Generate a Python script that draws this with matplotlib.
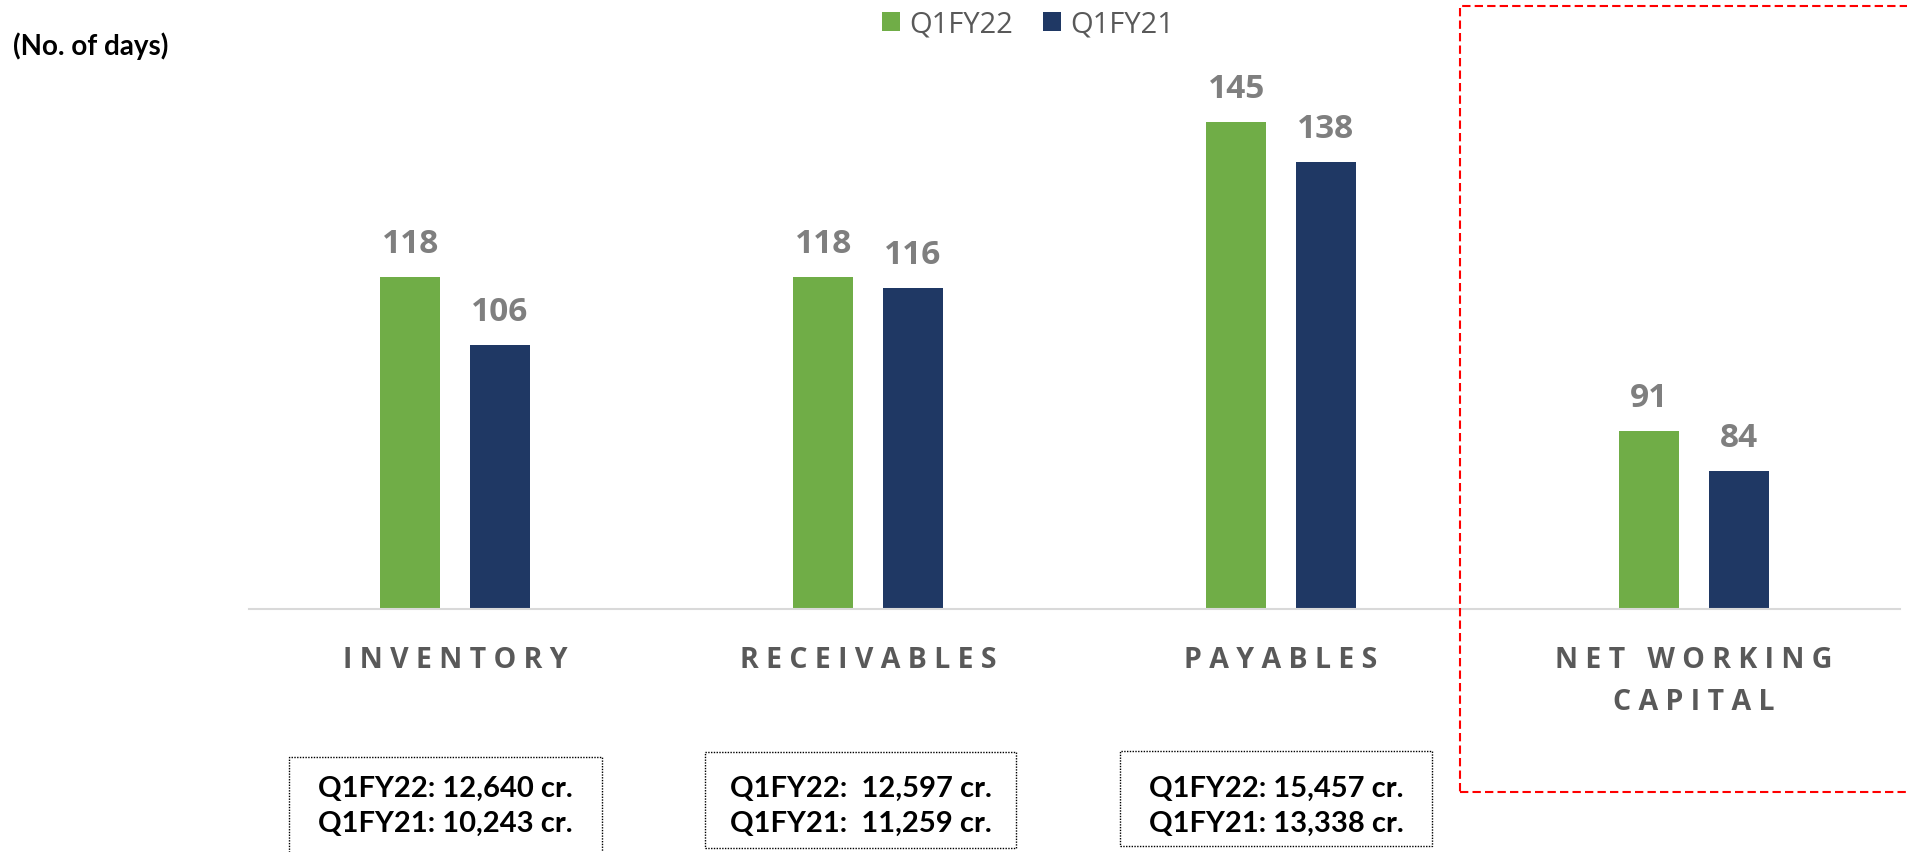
import matplotlib.pyplot as plt
from matplotlib.patches import Rectangle

categories = ["INVENTORY", "RECEIVABLES", "PAYABLES", "NET WORKING\nCAPITAL"]
q1fy22 = [118, 118, 145, 91]
q1fy21 = [106, 116, 138, 84]
series_names = ["Q1FY22", "Q1FY21"]
box_texts = [
    ["Q1FY22: 12,640 cr.", "Q1FY21: 10,243 cr."],
    ["Q1FY22:  12,597 cr.", "Q1FY21:  11,259 cr."],
    ["Q1FY22: 15,457 cr.", "Q1FY21: 13,338 cr."],
]

W, H = 1908, 853
GREEN = '#70AD47'
NAVY = '#1F3864'


def fx(px):
    return px / W


def fy(py):
    # py measured from the top of the image
    return 1 - py / H


def spaced(word):
    return " ".join(word)


fig = plt.figure(figsize=(W / 100, H / 100), dpi=100)
ax = fig.add_axes([fx(248.5), fy(610), fx(1900.5) - fx(248.5), 573 / H])

x = list(range(len(categories)))
bw = 0.145
off = 0.108
b1 = ax.bar([i - off for i in x], q1fy22, bw, color=GREEN, label=series_names[0])
b2 = ax.bar([i + off for i in x], q1fy21, bw, color=NAVY, label=series_names[1])

ax.set_xlim(-0.5, 3.5)
ax.set_ylim(60, 160)
ax.set_yticks([])
ax.set_xticks([])
for s in ['top', 'right', 'left']:
    ax.spines[s].set_visible(False)
ax.spines['bottom'].set_color('#D9D9D9')
ax.spines['bottom'].set_linewidth(1.5)

# value labels
for bars, vals in [(b1, q1fy22), (b2, q1fy21)]:
    for rect, v in zip(bars, vals):
        ax.annotate(str(v), (rect.get_x() + rect.get_width() / 2, v),
                    xytext=(0, 18), textcoords='offset points',
                    ha='center', va='baseline', fontsize=24,
                    fontweight='bold', family='Open Sans', color='#7F7F7F')

# category labels with letter spacing
for i, cat in enumerate(categories):
    for j, line in enumerate(cat.split("\n")):
        ax.annotate(spaced(line), (i, 0), xycoords=('data', 'axes fraction'),
                    xytext=(0, -41.5 - j * 30.5), textcoords='offset points',
                    ha='center', va='baseline', fontsize=20.5,
                    fontweight='bold', family='Open Sans', color='#595959')

fig.legend(loc='center', bbox_to_anchor=(fx(1028), fy(25)), ncol=2,
           frameon=False, handlelength=0.62, handleheight=0.62,
           handletextpad=0.34, columnspacing=1.0,
           prop={'family': 'Open Sans', 'size': 21}, labelcolor='#595959')

fig.text(fx(13), fy(55), "(No. of days)", fontsize=20, fontweight='bold',
         family='Lato', color='black', ha='left', va='baseline')

# dotted boxes with amounts
boxes = [(289, 758, 602, 870), (705, 753, 1016, 849), (1120, 752, 1432, 847)]
for (l, t, r, b), lines in zip(boxes, box_texts):
    fig.patches.append(Rectangle((fx(l), fy(b)), fx(r) - fx(l), fy(t) - fy(b),
                                 transform=fig.transFigure, fill=False,
                                 edgecolor='black', linewidth=1,
                                 linestyle=(0, (1, 1))))
    cx = (l + r) / 2
    for k, ln in enumerate(lines):
        fig.text(fx(cx), fy(797 + 35 * k), ln, fontsize=21, fontweight='bold',
                 family='Lato', color='black', ha='center', va='baseline')

# red dashed highlight around net working capital
fig.patches.append(Rectangle((fx(1460), fy(793)), fx(1915) - fx(1460),
                             fy(7) - fy(793), transform=fig.transFigure,
                             fill=False, edgecolor='#FF0000', linewidth=1.5,
                             linestyle=(0, (4, 2))))

fig.savefig('out.png', dpi=100)
